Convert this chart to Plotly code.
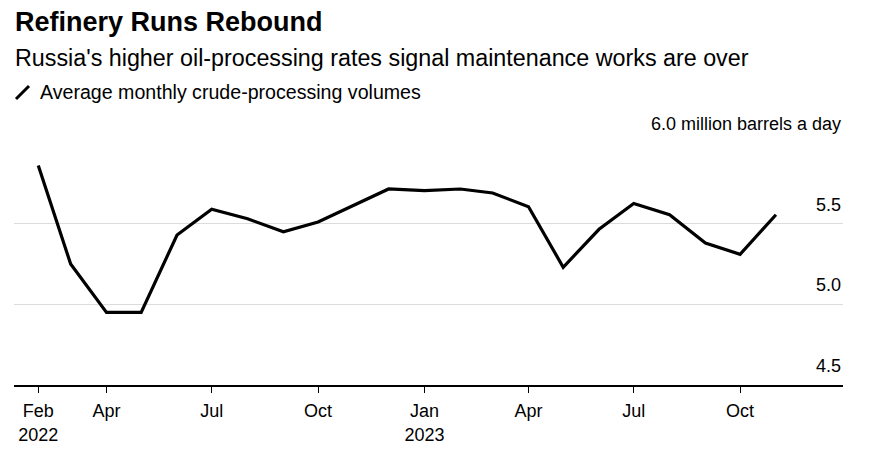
import plotly.graph_objects as go

months = ["2022-02-01","2022-03-01","2022-04-01","2022-05-01","2022-06-01","2022-07-01",
          "2022-08-01","2022-09-01","2022-10-01","2022-11-01","2022-12-01","2023-01-01",
          "2023-02-01","2023-03-01","2023-04-01","2023-05-01","2023-06-01","2023-07-01",
          "2023-08-01","2023-09-01","2023-10-01","2023-11-01"]
runs = [5.86, 5.25, 4.95, 4.95, 5.43, 5.59, 5.53, 5.45, 5.51, 5.615, 5.715, 5.705,
        5.715, 5.69, 5.605, 5.23, 5.465, 5.625, 5.555, 5.38, 5.31, 5.555]

x_tickvals = ["2022-02-01","2022-04-01","2022-07-01","2022-10-01","2023-01-01",
              "2023-04-01","2023-07-01","2023-10-01"]
x_ticktext = ["Feb<br>2022","Apr","Jul","Oct","Jan<br>2023","Apr","Jul","Oct"]
y_tickvals = [4.5, 5.0, 5.5, 6.0]
y_ticktext = ["4.5", "5.0", "5.5", "6.0 million barrels a day"]

title = "Refinery Runs Rebound"
subtitle = "Russia's higher oil-processing rates signal maintenance works are over"
legend_label = "Average monthly crude-processing volumes"

FONT = "Liberation Sans, Arial, sans-serif"

fig = go.Figure()
fig.add_trace(go.Scatter(x=months, y=runs, mode="lines",
                         line=dict(color="#000000", width=3.2),
                         showlegend=False, hoverinfo="skip"))

OFF = 8  # page body margin
W, H = 874 - OFF, 454 - OFF
# page-pixel plot edges
PL, PR, PT, PB = 14, 843, 143, 385
L, R, T, B = PL - OFF, W - (PR - OFF), PT - OFF, H - (PB - OFF)
pw, ph = PR - PL, PB - PT

def px_x(px):
    return (px - PL) / pw

def px_y(py):
    return (PB - py) / ph

annotations = [
    dict(text="<b>" + title + "</b>", xref="paper", yref="paper",
         x=px_x(13), y=px_y(22), xanchor="left", yanchor="middle",
         showarrow=False, font=dict(size=27, family=FONT, color="#000000")),
    dict(text=subtitle, xref="paper", yref="paper",
         x=px_x(13), y=px_y(58), xanchor="left", yanchor="middle",
         showarrow=False, font=dict(size=23.3, family=FONT, color="#000000")),
    dict(text=legend_label, xref="paper", yref="paper",
         x=px_x(38), y=px_y(92), xanchor="left", yanchor="middle",
         showarrow=False, font=dict(size=19.6, family=FONT, color="#000000")),
]
# y-axis labels sit above their gridlines at the right edge
for v, t in zip(y_tickvals, y_ticktext):
    annotations.append(dict(text=t, xref="paper", yref="y", x=1.0, y=v,
                            xanchor="right", yanchor="middle", yshift=19,
                            showarrow=False,
                            font=dict(size=18, family=FONT, color="#000000")))

fig.update_layout(
    width=W, height=H,
    margin=dict(l=L, r=R, t=T, b=B, pad=0),
    paper_bgcolor="white", plot_bgcolor="white",
    font=dict(family=FONT, color="#000000", size=18),
    xaxis=dict(type="date", range=["2022-01-11", "2023-12-29"],
               tickvals=x_tickvals, ticktext=x_ticktext,
               showgrid=False, showline=True, linecolor="#000000", linewidth=1.5,
               ticks="outside", ticklen=6, tickwidth=1.2, tickcolor="#000000",
               ticklabelstandoff=3,
               tickfont=dict(size=18, family=FONT, color="#000000"),
               zeroline=False, fixedrange=True),
    yaxis=dict(range=[4.5, 6.0], side="right", tickvals=y_tickvals,
               showticklabels=False,
               showgrid=True, gridcolor="#dcdcdc",
               gridwidth=1.2, showline=False, zeroline=False, ticks="",
               fixedrange=True),
    annotations=annotations,
    shapes=[
        dict(type="line", xref="paper", yref="paper",
             x0=px_x(16), y0=px_y(99), x1=px_x(29), y1=px_y(86),
             line=dict(color="#000000", width=3)),
    ],
)

fig.write_html("out.html")
